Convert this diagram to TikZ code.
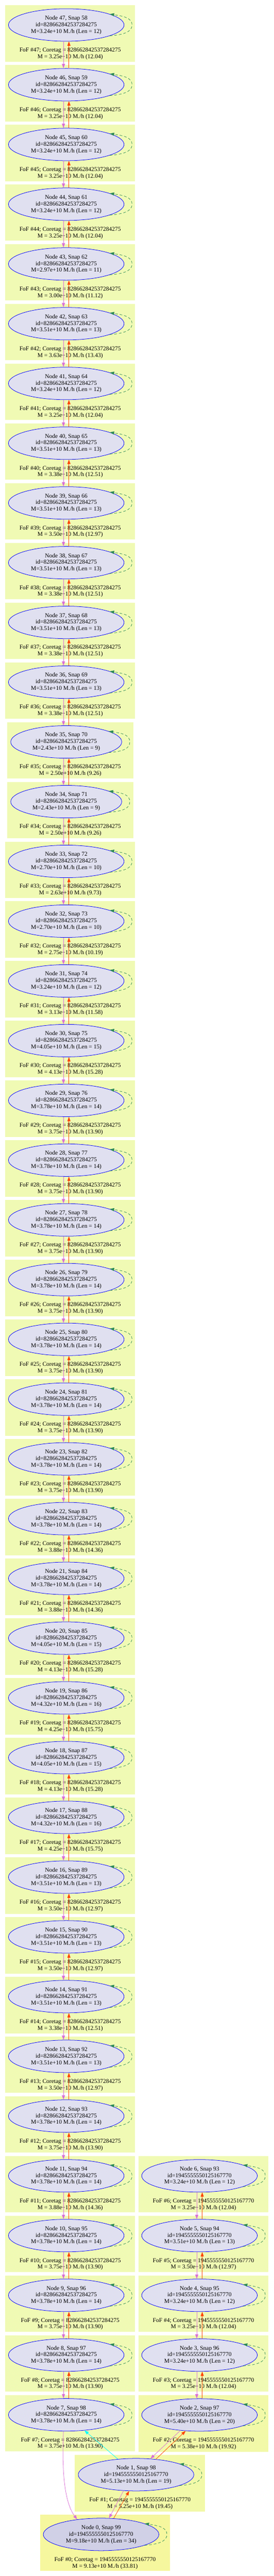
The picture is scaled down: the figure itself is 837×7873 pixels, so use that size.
\documentclass[tikz,border=0pt]{standalone}
\usepackage{fontspec}
\setmainfont{Liberation Serif}
\usetikzlibrary{arrows.meta,shapes.geometric,calc}
\definecolor{clA}{RGB}{240,250,180}
\definecolor{clB}{RGB}{242,249,168}
\definecolor{clC}{RGB}{246,247,158}
\definecolor{ndA}{RGB}{224,224,240}
\definecolor{ndB}{RGB}{219,219,237}
\definecolor{ndC}{RGB}{208,208,230}
\definecolor{pinkc}{RGB}{218,112,214}
\definecolor{orangec}{RGB}{255,69,0}
\definecolor{loopc}{RGB}{46,139,87}
\definecolor{cyanc}{RGB}{0,255,255}
\definecolor{bluec}{RGB}{0,0,255}
\tikzset{
  halo/.style={ellipse, draw=bluec, line width=1.2pt, fill=ndA, minimum width=353.4pt,
    minimum height=99.4pt, inner sep=0pt, align=center, font=\fontsize{18.1}{20.3}\selectfont},
  fof/.style={inner sep=0pt, align=center, font=\fontsize{18.1}{20.3}\selectfont},
  arrowhd/.style={-{Triangle[length=13.3pt,width=9.5pt]}},
  pinkedge/.style={draw=pinkc, line width=1.2pt, arrowhd},
  orangeedge/.style={draw=orangec, line width=1.2pt, arrowhd},
  cyanedge/.style={draw=cyanc, line width=1.2pt, arrowhd},
  loopedge/.style={draw=loopc, line width=1.2pt, dash pattern=on 8pt off 6pt, arrowhd},
}
\newcommand\hloop[1]{\draw[loopedge] (#1.-14) .. controls +(40pt,3pt) and +(0pt,-22pt) .. ($(#1.east)+(24pt,0pt)$) .. controls +(0pt,22pt) and +(40pt,-6pt) .. (#1.14);}
\begin{document}
\begin{tikzpicture}[x=1pt,y=-1pt]
\fill[white] (0,0) rectangle (837,7873);
\useasboundingbox (0,0) rectangle (837,7873);
% ---------- left column ----------
\foreach \vk/\vs/\vm/\vl/\vfm/\vfr/\vnw in {
47/58/3.24/12/3.25/12.04/0,
46/59/3.24/12/3.25/12.04/0,
45/60/3.24/12/3.25/12.04/0,
44/61/3.24/12/3.25/12.04/0,
43/62/2.97/11/3.00/11.12/0,
42/63/3.51/13/3.63/13.43/0,
41/64/3.24/12/3.25/12.04/0,
40/65/3.51/13/3.38/12.51/0,
39/66/3.51/13/3.50/12.97/0,
38/67/3.51/13/3.38/12.51/0,
37/68/3.51/13/3.38/12.51/0,
36/69/3.51/13/3.38/12.51/0,
35/70/2.43/9/2.50/9.26/1,
34/71/2.43/9/2.50/9.26/1,
33/72/2.70/10/2.63/9.73/0,
32/73/2.70/10/2.75/10.19/0,
31/74/3.24/12/3.13/11.58/0,
30/75/4.05/15/4.13/15.28/0,
29/76/3.78/14/3.75/13.90/0,
28/77/3.78/14/3.75/13.90/0,
27/78/3.78/14/3.75/13.90/0,
26/79/3.78/14/3.75/13.90/0,
25/80/3.78/14/3.75/13.90/0,
24/81/3.78/14/3.75/13.90/0,
23/82/3.78/14/3.75/13.90/0,
22/83/3.78/14/3.88/14.36/0,
21/84/3.78/14/3.88/14.36/0,
20/85/4.05/15/4.13/15.28/0,
19/86/4.32/16/4.25/15.75/0,
18/87/4.05/15/4.13/15.28/0,
17/88/4.32/16/4.25/15.75/0,
16/89/3.51/13/3.50/12.97/0,
15/90/3.51/13/3.50/12.97/0,
14/91/3.51/13/3.38/12.51/0,
13/92/3.51/13/3.50/12.97/0,
12/93/3.78/14/3.75/13.90/0,
11/94/3.78/14/3.88/14.36/0,
10/95/3.78/14/3.75/13.90/0,
9/96/3.78/14/3.75/13.90/0,
8/97/3.78/14/3.75/13.90/0,
7/98/3.78/14/3.75/13.90/0}{
  \pgfmathsetmacro\ctop{15.7+182.6*(47-\vk)}
  \pgfmathsetmacro\ccy{\ctop+60.6}
  \pgfmathsetmacro\cleft{15.7+6.3*\vnw}
  \pgfmathsetmacro\cright{413.3-6*\vnw}
  \pgfmathsetmacro\cew{353.4-14*\vnw}
  \fill[clA] (\cleft,\ctop) rectangle (\cright,\ctop+172.6);
  \node[fof] (f\vk) at (214.5,\ctop+148.3) {FoF \#\vk; Coretag = 828662842537284275\\M = \vfm e+10 M./h (\vfr)};
  \node[halo, minimum width=\cew pt] (n\vk) at (202.5,\ccy) {Node \vk, Snap \vs\\id=828662842537284275\\M=\vm e+10 M./h (Len = \vl)};
  \hloop{n\vk}
}
% ---------- right column ----------
\foreach \vk/\vs/\vm/\vl/\vfm/\vfr in {
6/93/3.24/12/3.25/12.04,
5/94/3.51/13/3.50/12.97,
4/95/3.24/12/3.25/12.04,
3/96/3.24/12/3.25/12.04}{
  \pgfmathsetmacro\ctop{15.7+182.6*(42-\vk)}
  \pgfmathsetmacro\ccy{\ctop+60.6}
  \fill[clA] (423,\ctop) rectangle (820.8,\ctop+172.6);
  \node[fof] (f\vk) at (622,\ctop+148.3) {FoF \#\vk; Coretag = 1945555550125167770\\M = \vfm e+10 M./h (\vfr)};
  \node[halo] (n\vk) at (610,\ccy) {Node \vk, Snap \vs\\id=1945555550125167770\\M=\vm e+10 M./h (Len = \vl)};
  \hloop{n\vk}
}
% node 2
\fill[clB] (423,7320.1) rectangle (820.8,7492.7);
\node[fof] (f2) at (622,7468.4) {FoF \#2; Coretag = 1945555550125167770\\M = 5.38e+10 M./h (19.92)};
\node[halo, fill=ndB] (n2) at (610,7380.7) {Node 2, Snap 97\\id=1945555550125167770\\M=5.40e+10 M./h (Len = 20)};
\hloop{n2}
% node 1
\fill[clB] (228.8,7502.7) rectangle (626.7,7675.3);
\node[fof] (f1) at (428,7651) {FoF \#1; Coretag = 1945555550125167770\\M = 5.25e+10 M./h (19.45)};
\node[halo, fill=ndB] (n1) at (416,7563.3) {Node 1, Snap 98\\id=1945555550125167770\\M=5.13e+10 M./h (Len = 19)};
\hloop{n1}
% node 0
\fill[clC] (122.1,7685.3) rectangle (519.8,7857.9);
\node[fof] (f0) at (321.1,7833.6) {FoF \#0; Coretag = 1945555550125167770\\M = 9.13e+10 M./h (33.81)};
\node[halo, fill=ndC] (n0) at (309.1,7745.9) {Node 0, Snap 99\\id=1945555550125167770\\M=9.18e+10 M./h (Len = 34)};
\hloop{n0}
% ---------- edges ----------
\foreach \va in {47,46,...,8}{
  \pgfmathtruncatemacro\vb{\va-1}
  \draw[pinkedge] ([xshift=-8.5pt]n\va.south) -- ([xshift=-8.5pt]n\vb.north);
  \draw[orangeedge] ([xshift=8.2pt]n\vb.north) -- ([xshift=8.2pt]n\va.south);
}
\foreach \va in {6,5,4,3}{
  \pgfmathtruncatemacro\vb{\va-1}
  \draw[pinkedge] ([xshift=-8.5pt]n\va.south) -- ([xshift=-8.5pt]n\vb.north);
  \draw[orangeedge] ([xshift=8.2pt]n\vb.north) -- ([xshift=8.2pt]n\va.south);
}
\draw[pinkedge] (n2.219) -- (n1.48);
\draw[orangeedge] (n1.38) -- (n2.229);
\draw[pinkedge] (n1.232) -- (n0.64);
\draw[orangeedge] (n0.52) -- (n1.247);
\draw[cyanedge] (n1) -- (n7);
\draw[pinkedge] ([xshift=-8.5pt]n7.south) .. controls ($(n7.south)+(-14.5pt,-130pt)$) and ($(n0.148)+(-37pt,50pt)$) .. (n0.148);
\end{tikzpicture}
\end{document}
